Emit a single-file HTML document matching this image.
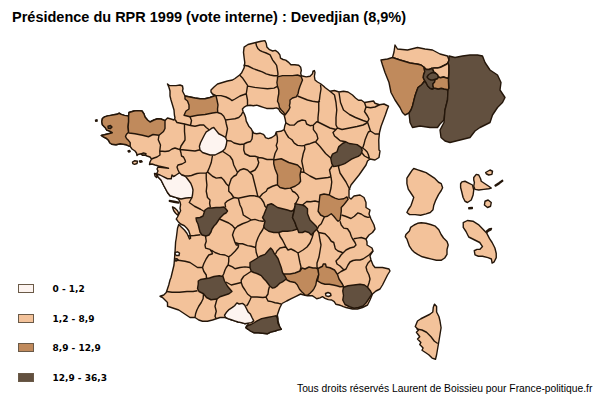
<!DOCTYPE html>
<html><head><meta charset="utf-8"><style>
html,body{margin:0;padding:0;background:#fff;}
body{width:600px;height:400px;position:relative;overflow:hidden;}
#title{position:absolute;left:12px;top:9px;font:bold 14.5px "Liberation Sans",Arial,sans-serif;color:#000;white-space:nowrap;}
.lg{position:absolute;left:52.5px;font:bold 9px "DejaVu Sans",Verdana,sans-serif;color:#000;white-space:nowrap;}
.bx{position:absolute;left:18px;width:14px;height:7px;border:1px solid #6a5a48;}
#foot{position:absolute;left:297px;top:383px;font:10.3px "Liberation Sans",Arial,sans-serif;color:#000;white-space:nowrap;}
svg{position:absolute;left:0;top:0;}
</style></head><body>
<svg width="600" height="400" viewBox="0 0 600 400">
<g stroke="#24160a" stroke-width="1.4" stroke-linejoin="round">
<path d="M211,90 L212,89 L214,87 L217.5,84 L222.5,82.5 L227.5,81 L232.5,80 L235,78.5 L239.6,75 L241.5,73.1 L242.8,70.5 L244.1,67.9 L244.8,62.7 L244.1,57.5 L243.5,52.3 L244.1,47.1 L248,44.5 L255.8,42.55 L261,41.25 L264.9,40.6 L266.2,43.2 L266.9,47.1 L269.5,49.7 L272.7,51 L275.3,50.35 L277.9,52.3 L279.9,54.9 L280.5,58.2 L283.1,59.5 L285.7,60.1 L288.3,62.1 L290.9,64.7 L294.8,64.7 L298.7,65.3 L300.7,67.3 L301.3,70.5 L300.7,73.1 L301.3,75.7 L306.25,76.9 L310,76.25 L312.5,73.75 L313,71.25 L314.4,70.6 L315,72.5 L314.4,76.25 L315,80 L317.5,82 L320.6,83.75 L323.75,86.25 L325,87.5 L330,91.25 L334.5,90.5 L339,92 L343.5,91.25 L348,92 L352.5,95 L355.5,98 L358.5,100.25 L361.5,100.25 L364.5,102.5 L369,101.75 L373.5,101 L375,103.25 L379.5,104.75 L384,104 L388.5,106.25 L387,110 L385.5,114.5 L383.25,120.5 L381,126.5 L379.5,132.5 L378.75,140 L379,150 L380,151 L379,157.5 L375,160 L370,159 L367.5,161 L366,165 L362.5,170 L359,175 L355,180 L351,185 L349,190 L349,195 L349,197.5 L351,199 L354,196 L360,195 L364,197.5 L366,202.5 L366,207.5 L370,210 L369,214 L371,219 L374,225 L375,229 L372.5,232.5 L369,235 L366,239 L367,242 L367,245 L372,248 L373,251 L371,254 L370,256 L371,260 L373,265 L375,267.5 L382.5,267.5 L389,269 L390,271 L387.5,275 L385,280 L382.5,285 L380,289 L376,291 L372.5,294 L370,300 L367.5,305 L362.5,307.5 L357.5,309 L352.5,309 L346,307.5 L343.3,306.7 L341.7,305.8 L339.2,305 L335.8,304.2 L334.2,301.7 L331.7,300 L328.3,299.6 L325,298.3 L322.5,296.7 L320,297.9 L316.7,298.75 L315,297.5 L312.5,295.8 L307.5,295.8 L305,295.3 L302,294.5 L300.7,294 L296,296.3 L291.3,298.7 L286.7,301 L282,303.5 L279.7,308 L278.5,311.5 L277.3,315 L278,318.5 L278,321 L279.6,326.5 L281.3,329.3 L278.5,329.9 L275.1,331 L270.6,332.1 L267.25,333.8 L262.75,333.25 L258.25,332.7 L253.75,332.7 L250.4,331 L248.1,329.3 L246.4,328.2 L245.9,327.6 L246.5,326 L248.1,324.5 L248.1,323.1 L244.75,323.7 L241.4,322.6 L238,322 L234.6,320.9 L231.25,319.75 L227.9,318.6 L225.6,317.5 L224.5,317.5 L220,317.5 L216.25,318.75 L212.5,320 L207.5,321.25 L202.5,321.25 L198.75,320 L195,317.5 L190,317.5 L186.25,315 L182.5,312.5 L178.75,310 L175,308.75 L171.25,307.5 L167.5,306.25 L167.5,302.5 L165,300 L162.5,297.5 L160,296.25 L163.75,295 L166.25,292.5 L167.5,288.75 L168.75,285 L170,280 L171,277.5 L174,265 L175,252.5 L175.6,242 L176.25,238.25 L176.9,233.25 L177.5,228.25 L178.75,224.5 L181.25,227 L184.4,230 L186.9,233.25 L188.1,235.75 L189.5,239 L190.6,238.25 L190,234.5 L188.75,230.75 L186.9,228.25 L184.4,225.75 L180.6,224 L178,221.4 L176.25,219 L177.5,217 L178.75,214.5 L180.6,210.75 L180,208.25 L180.6,204.5 L180,202 L178.75,199.5 L176.25,197.6 L170,195.75 L167.5,192.5 L164,186 L161,180 L158,177 L156.5,175 L157,173 L158,171 L157,169 L158,167 L168.5,168.3 L158.5,166 L155,165 L152,164 L149.5,164.5 L150,162 L151.5,159 L150,157 L147,156 L144,154.5 L142,154 L140,154 L138,154.5 L137,155.5 L136.5,153 L135,151 L132,149 L130.2,146.3 L128.6,145.8 L126.5,144.8 L123.4,144.2 L120.2,143.7 L116,144.8 L111.8,144.2 L109.7,142.7 L108.7,140.6 L106.6,138.5 L103.4,136.9 L101.3,135.5 L104.5,134.8 L108.6,133.7 L112.3,132.7 L109.7,131.1 L106.6,130 L105.5,128 L104.5,126.9 L102.4,124.8 L101.8,121.7 L102.4,118.5 L104.5,116.9 L107.6,115.9 L110.8,115.35 L113.9,114.8 L117,114.3 L119.2,113.25 L121.3,114.3 L124.4,115.35 L127.6,115.9 L128.6,116.4 L129,112.5 L134,111 L137.5,110.6 L142,111 L144,114 L145,117 L147.5,120 L150,122 L154,120 L157.5,118.75 L161,119 L165,120.6 L167.5,118 L171,119 L174,120 L175,118 L174.4,115 L174,110 L172.5,105 L171,100 L170,96 L170,91 L169,87.5 L167.5,84 L169.4,85.6 L172.5,85.6 L176,85.6 L180,85 L182.5,86 L183,88.75 L182.5,91 L184,94 L185,96 L190,97 L195,98 L200,98.75 L205,98.75 L210,97.5 L214,96 L216,95.6 L212.5,94 L211,92Z" fill="#f3c29a"/>
<path fill="none" d="M159,135.25 L158.25,139.75 L160.5,145 L159.75,151 M159.75,151 L160,155 L157,157 L154,158 L151.5,159 M159.75,151 L165,151.5 L169,151 L172,149 L175,148 L178,149 L180,149.5 M175,119.5 L177,122.5 L184.5,124 L184.5,131.5 L185,137 L185,140 L183,143 L181,146 L180,149.5 M184.5,124 L190.5,125.5 M190,116.75 L191.5,120.5 L190.5,125.5 M190.5,125.5 L195,126.25 L200,125 L203.75,125 L206.25,127.5 L209.4,130 M180,149.5 L185,150 L190,150.5 L195,151 L199,150 L200,150 M180,149.5 L181,153 L181.5,156 L183.5,157 L185,160 L185.5,162 L182,164 L178,165 L177,167 L178,170 L179.5,173 M181.75,175 L184.75,175.75 L188.5,176 L191.5,175.5 L194,174.5 L197,173.5 L200,173.1 L206.25,173.1 M212.5,155.5 L211.25,162.5 L209.4,167.5 L207.5,171.9 L206.25,173.1 M206.25,173.1 L206.25,178.75 L206.9,185 L206.25,191.25 L207.5,197.5 L210,200 L209.6,203.3 L210.4,207.5 M191.9,197.5 L189.25,202.5 L194.5,206.25 L200.5,209.25 L204.25,211.5 M207.5,171.9 L212.5,176.25 L216.25,178.1 L221.25,177.5 L223.75,180 L226.25,183.75 L228.75,186.25 M222.5,151.25 L226.25,153.75 L230,156.25 L232.5,160 L233.75,165 L236.25,170 L237.5,172.5 L236.25,175 L233.75,176.25 L231.25,178.75 L230,182.5 L228.75,186.25 M228.75,186.25 L228.75,191.25 L231.25,193.75 L233.75,197.5 L234.2,197.5 M234.2,197.5 L230.8,199.2 L227.5,200.8 L225,203.3 L225.6,207.5 M234.2,197.5 L238.3,198.3 L241.7,197.5 L245,196.7 L250,195.8 L253.75,195.6 L256.25,196.25 L258.75,196.9 L261.25,198.75 M238.3,198.3 L239.2,201.7 L240,205 L241.7,208.3 L242.5,211.7 L243.3,215 L246.25,216.9 L249.4,218.75 L251.25,220 M251.25,220 L255,219.4 L258.75,220.6 L262.5,221.25 L264,221 M251.25,220 L247.5,221.9 L242.5,223.75 L237.5,226.25 L235,228.75 L233.75,231.25 L232.5,235 L233.75,238.75 L235,242.5 L236.25,245 L238.75,245 M219.5,219 L223,220.5 L228.75,223 L232.5,225.6 L235,228.75 M235,242.5 L238.75,243.75 L242.5,243.75 L247.5,245.6 L251.25,246.25 L255.6,247.5 M261.25,198.75 L263.75,202.5 L265,206.25 L266.25,207.5 M264.5,225.5 L262.5,230 L260,233.75 L258.1,237.5 L256.25,242.5 L255.6,247.5 L256.25,252.5 L257.5,256.25 L258,257.5 M188,236 L194.5,235.5 L200.5,234.75 M205.5,236 L206.25,241.25 L205,245 L205.6,248.1 L210,249.4 L211.25,251.25 M278.75,232.5 L280,236.25 L282.5,240 L285,245 L286.25,247.5 M286.25,247.5 L285,247 L280,248 L277,251 L275.5,254 M286.25,247.5 L288,250 L291,249 L295,251 L298,253 L303,250 L307,247 L310,243 L312,238 L313.5,233 M298,253 L299,258 L300,263 L301,267 L300,271 M317.5,228.5 L318.75,226 L321.25,223.75 L324.4,216.9 M318.75,232.5 L320,240 L321,245 L320,251 L319,257 L317,263 L317,267 L318,269 M316,228.5 L318.75,232.5 L325,233.75 L328.75,237.5 L331.25,241.25 L333.75,242.5 L335,247.5 L335.5,249 L338,251 L341,252 L343,253 L346,250 L350,248 L354,247 L356,245 L355,242.5 L352.5,238.75 L351.25,236.25 L350,232.5 L347.5,228.75 L343.75,228.1 L341.25,225 L340,221.25 M353.75,238.75 L357.5,238.1 L361.25,237.5 L365,238.75 L366,239 M341.5,215 L345.4,216.25 L351,218.5 L354.4,216.25 L357.75,212.9 L361.1,214 L364.5,216.25 L367.9,217.4 L369.8,217 M343,253 L341,255 L339,258 L336,261 L337,264 L340,266 L342,268 L344,270 L346,269 L348,265 L350,262 L353,260.5 L356,260 L360,260 L363,259 L366,257 L369,255 L371,253 L373,251 M344,270 L341,271.5 L337.5,274 M343.5,287 L342,283.5 M367.5,287.25 L369,283 L370,279 L369,275 L367,271 L366,267 L368,263 L371,260 M226.9,140.6 L231,141 L234,143 L240,144.5 L244,144 M244,144 L247,142.5 L250.5,141.5 L252,139 L252.5,135 L252.5,130 M217.5,112.5 L221.25,113.75 L223.75,116.25 L225.5,120 L230,119.4 L235,118.75 L238.75,117.5 L241.25,115 L242.5,112.5 L243.75,112.5 M225.5,120 L226.25,123.75 L227.5,128.75 L226.25,135 L225.6,137.5 M216,95.6 L221,95.6 L226,97 L230,99 L232,100.6 L235,99 L240,96 L246.25,93.75 M239.6,75 L242.8,78.3 L245.4,82.2 L248,86.1 M247.5,86 L246.25,93.75 L247.5,100 L247.5,105 M243.5,65.3 L248,66 L253.2,68.6 L258.4,70.5 L262.3,71.8 L266.2,73.8 L270.1,75 L274,75.7 L277.9,75.7 M248,86.1 L254.5,87.4 L261,88.1 L267.5,88.7 L274,88.1 L277.9,86.1 M255.8,42.55 L256.5,45.8 L257.8,48.4 L259.7,50.35 L262.3,51.65 L266.2,53 L270.1,54.9 L271.4,57.5 L272.7,60.1 L274.7,62.7 L276.6,65.3 L277.3,69.2 L277.9,73.1 L277.9,75.7 M297.5,96 L302.5,98 L307.5,100 L312.5,101.25 L317.5,102 L320,101.25 M318.75,101.75 L319.5,99.5 L320,95 L321,89 L320.5,84.5 M318.75,101.75 L318.75,110 L318,117.5 L318,122 M330,91.25 L334.5,95 L336,102.5 L336.75,110 L336,117.5 L336,125 L337.5,128 M318,122 L324,125 L330,128 L336,129.5 L337.5,128 M339,92.5 L340.5,102.5 L343.5,110 L349.5,114.5 L355.5,117.5 L363,120.5 L367.5,122 M364.5,102.5 L366,107 L364.5,111.5 L367.5,116 L369,119 L367.5,122 M366,107 L370.5,107.75 L375,107 L378,105.5 L379.5,104.75 M337.5,128 L342,129.5 L349.5,128 L357,126.5 L363,125 L366,123.5 L367.5,122 L369,126.5 L370.5,131 L375,134 L379.5,134 M370.5,131 L368.4,132 L367.2,134.5 L365,140.1 L363.9,144.6 L362.7,148 L361.1,147.4 M362.7,148 L365,149.7 L367.2,152 L368.4,154.7 L369.5,158.7 M361.6,152.5 L364.5,156 L369.5,158.7 M336,129.5 L333,132.5 L334.5,136 L336.9,137.9 L340.2,140.7 L345.9,141.8 M315.6,142 L317.9,144.25 L320,146.5 L325.6,153.5 L330.7,158.1 M313.4,125.1 L313.4,129.6 L316.75,134.1 L317.9,138.6 L315.6,142 L314.5,142 M285.8,122.9 L289.75,125.1 L294.25,125.1 L297.6,121.75 L302.1,120 L305.5,120.6 L306.6,124 L310,125.7 L313.4,125.1 L316.75,121.75 L318,122 M284.1,129.6 L286.4,134.1 L288.6,137.5 L292,139.75 L294.25,143.1 L297.6,145.4 L302.1,145.9 L304.4,145.4 M304.4,145.4 L305.5,144.8 L310,143.7 L314.5,142 L315.6,142 M276.25,131.9 L277.4,137.5 L277.4,142 L276.25,145.4 L277.4,148.75 L275.1,153.25 L274,157.75 L273.75,160 M304.4,145.4 L304.9,148.75 L303.25,153.5 L301.75,161 L303.25,168.5 L304,172.25 M300.5,172 L304,172.25 L310,176 L316,179 L322,178.25 L328,177.5 L331,176.75 M332.5,165.5 L329.5,170 L331,176.75 M339,165.5 L338.5,167 L340,173 L343,177.5 L346,182 L348.25,186.5 L350,190 M331,176.75 L331.75,182 L331,188 L329.5,194 L329.4,195 M290,188.1 L291.25,188.75 L292.5,191.25 L295,192.5 L297.5,195 L298.75,197.5 L297.5,200 L296.25,202.5 L295,204 M302.5,205 L306.75,201.5 L310.5,201.75 L315,201 L319,202 M259.5,197.2 L262.5,193.75 L266.25,191.25 L267.5,188.75 L272.5,186.25 L276.25,185 L277.5,185 M258.75,157.5 L262.5,158 L267,159.5 L271.5,159.5 L274.5,159.5 M244,144 L243.75,150 L245,153.75 L250,156.25 L255,156.25 L258.75,157.5 M237.5,172.5 L240,170 L243.75,168.75 L247.5,170 L250,172.5 L255,170 L257.5,166.25 L258.75,162.5 L257.5,158.75 L258.75,157.5 M250,172.5 L252.5,175 L253.75,180 L255,185 L256.25,190 L257.5,195 L258,196.5 M211.25,250 L212.5,253.75 L208.75,255 L206.25,258.75 L203.75,263.75 L202.5,267.5 L203.75,271.25 L206.25,275 L206.5,278.5 M175.3,260 L180,260.5 L185,261.25 L190,262.5 L193.75,265 L197.5,267.5 L202.5,267.5 M211.25,250 L215,252.5 L220,254.4 L225,255 L228.75,256.9 L231.25,255 L235,251.25 L238.1,247.5 L238.75,245 M228.75,256.9 L228.75,261.25 L228.1,265 L226.25,267.5 L225,270 L223.75,273.75 L222.5,276.25 M228.1,265 L232.5,266.9 L235,268.75 L240,267.5 L245,266.9 L250,267.5 M251.25,271.25 L247.5,273.75 L243.75,276.25 L241.25,280 L241.25,282.5 M226,282 L231.25,285 L236.25,283.75 L241.25,282.5 M241.25,282.5 L242.5,286.25 L245,290 L247.5,294 L251.25,297 M251.25,297 L257,297 L263,297.5 L266,297 L268,294 L268.5,290 L269.5,286.5 M251.25,297 L250,300 L248,304 L246.5,306 M266,297 L268,301 L271.5,301.6 L275,302.75 L278.5,303.3 L281,304 M217,299 L215,306.25 L216.25,311.25 L215,316.25 L216.25,318.75 M203.5,293.75 L203.1,298.75 L201.25,302.5 L198.75,306.25 L196.9,310 L195.6,313.75 L195,317.5 M166.75,291.5 L172,292.25 L179.5,292.25 L187,291.5 L193,291.5 L197.5,290.75"/>
<path d="M128.6,116.4 L128.6,121.7 L128.1,126.9 L128.6,132.2 L126.5,134.3 L125.5,136.4 L126.5,138.5 L128.6,140.6 L130.2,142.7 L130.2,146.3 L128.6,145.8 L126.5,144.8 L123.4,144.2 L120.2,143.7 L116,144.8 L111.8,144.2 L109.7,142.7 L108.7,140.6 L106.6,138.5 L103.4,136.9 L101.3,135.5 L104.5,134.8 L108.6,133.7 L112.3,132.7 L109.7,131.1 L106.6,130 L105.5,128 L104.5,126.9 L102.4,124.8 L101.8,121.7 L102.4,118.5 L104.5,116.9 L107.6,115.9 L110.8,115.35 L113.9,114.8 L117,114.3 L119.2,113.25 L121.3,114.3 L124.4,115.35 L127.6,115.9Z" fill="#c08a5c"/>
<path d="M128.6,116.4 L129,112.5 L134,111 L137.5,110.6 L142,111 L144,114 L145,117 L147.5,120 L150,122 L154,120 L157.5,118.75 L161,119 L165,120.6 L165,123.25 L165,128.5 L163.5,131.5 L159,135.25 L153,134.5 L148.5,136.75 L142.5,135.25 L135,133.75 L129,133 L128.6,132.2 L128.1,126.9 L128.6,121.7Z" fill="#c08a5c"/>
<path d="M185,96 L190,97 L195,98 L200,98.75 L205,98.75 L210,97.5 L214,96 L216,95.6 L217,100 L218,105 L217.5,109 L217.75,112.25 L212.5,113 L205,114.5 L197.5,115.25 L190,116.75 L184,115.25 L186,111 L189,109 L189,105 L187.5,101 L185,99Z" fill="#c08a5c"/>
<path d="M277.5,76.9 L282.5,75.6 L287.5,75.6 L292.5,75.6 L297.5,75 L301,76.25 L302.5,80 L301,83.75 L300,86.25 L298.75,90 L298,93.75 L296.25,96.9 L292.5,98 L290,100 L290,103 L289.4,105.6 L290,107.5 L288.75,110 L286.9,112.5 L285,115 L283.75,112.5 L281.25,110 L279.4,107.5 L278.75,103.75 L277.5,101.25 L278,97.5 L278.75,93.75 L278.75,90 L277.5,86.25 L276.9,82.5 L277.5,78.75Z" fill="#c08a5c"/>
<path d="M330.7,158.1 L332.4,154.2 L336.9,151.9 L338.6,146.9 L342.5,143.5 L345.9,141.8 L349.2,143.5 L353.7,144.1 L357.1,144.6 L361.1,147.4 L362.2,150.2 L361.6,152.5 L360.5,154.7 L358.2,156.4 L354.9,157.6 L351.5,159.2 L348.1,161.5 L344.7,163.7 L341.4,164.9 L336.9,166 L333.5,166.6 L331.8,163.7Z" fill="#62503f"/>
<path d="M273.75,160 L281.25,158.75 L288.75,162.5 L297.5,165 L301.25,168.75 L300,175 L300.6,181.25 L298.75,183.75 L295,186.25 L290,188.1 L285,188.75 L280,187.5 L277.5,185 L277.5,175 L275,168.75 L273.75,163.75Z" fill="#c08a5c"/>
<path d="M320,195 L324,194 L329.4,195 L331.25,196.25 L335,198.1 L338.75,199.4 L343.75,198.75 L346.9,196.9 L348.1,199.4 L345.6,202.5 L343.1,205.6 L341.25,207.5 L341.25,211.25 L340.6,216.25 L340,220 L338.1,221.25 L336.25,219.4 L333.75,216.25 L331.25,213.75 L327.5,216.25 L324.4,216.9 L320.6,215 L318.1,211.25 L318.75,206.25 L319.4,200Z" fill="#c08a5c"/>
<path d="M283,274 L285,274 L290,274 L295,273 L300,271 L302,268 L305,269 L309,267 L313,268 L316,268 L318,269 L318.75,274.5 L316.7,280 L315.8,285 L314.2,288.3 L312.5,290.8 L310,293.3 L307.5,295.4 L305,295 L303.3,293.3 L301.7,291.7 L299.5,289.3 L297.2,284.7 L295,282.5 L290,281.5 L287,280 L285,277Z" fill="#c08a5c"/>
<path d="M318,268.5 L322.5,266.25 L323.25,264 L325.5,264 L326.25,267 L330,267.75 L334.5,270 L337.5,274.5 L339,279 L342,283.5 L343.5,286.5 L340,286.7 L336.7,285.8 L333.3,285 L329.2,284.2 L325,284.2 L321.7,283.3 L317.5,280.8 L318.75,274.5Z" fill="#c08a5c"/>
<path d="M343.5,287.25 L348,285.75 L354,285 L360,284.25 L364.5,285 L367.5,287.25 L370.5,291 L372,294 L369,298.5 L366,303 L363,306 L358.5,307.5 L354,308.25 L349.5,306.75 L345,304.5 L342.75,300 L343.5,295.5 L342.75,291Z" fill="#62503f"/>
<path d="M245.9,327.6 L248,325.5 L251.5,324.25 L254.5,322.5 L257.1,320.9 L261.6,318.6 L267.25,317.5 L272.9,316.4 L276.25,315.8 L277.4,318.6 L277.9,323.1 L279.6,326.5 L281.3,329.3 L278.5,329.9 L275.1,331 L270.6,332.1 L267.25,333.8 L262.75,333.25 L258.25,332.7 L253.75,332.7 L250.4,331 L248.1,329.3 L246.4,328.2Z" fill="#62503f"/>
<path d="M224.5,315.25 L226.75,311.9 L229,309.6 L232.4,307.4 L234.6,305.7 L236.9,302.9 L239.1,304 L242.5,303.4 L244.75,305.1 L246.4,308.5 L248.1,311.9 L250.4,314.1 L252,317.5 L253.75,320.9 L251.5,322.6 L248.1,323.1 L244.75,323.7 L241.4,322.6 L238,322 L234.6,320.9 L231.25,319.75 L227.9,318.6 L225.6,317.5Z" fill="#fdf4f0"/>
<path d="M198.25,281 L200.5,279.5 L205,278.75 L209.5,278 L214,276.5 L219.25,275.75 L223,276.5 L224.5,281 L227.5,286.25 L232,291.5 L229,293.75 L224.5,295.25 L220,296.75 L217,299 L211,299.75 L206.5,297.5 L203.5,293.75 L199,291.5 L197.5,288.5 L198.25,284Z" fill="#62503f"/>
<path d="M250,262.5 L256.25,258.75 L260,256.25 L265,254.4 L268.75,250 L270.6,248.1 L272.5,250 L274.4,253.75 L276.25,256 L278.1,258.75 L279.4,262.5 L281.25,267.5 L282.5,272.5 L285,276.25 L286.25,278.75 L285,280 L282.5,281.9 L280,283.1 L277.5,285.6 L275,287.5 L272.5,288.1 L270,286.25 L268.1,283.75 L266.25,281.25 L263.75,278.75 L261.25,275.6 L257.5,273.75 L253.75,272.5 L251.25,271.25 L250,267.5Z" fill="#62503f"/>
<path d="M196,218 L200,217.5 L203,216 L204,213 L205,210 L208,208 L212,208 L216,207.5 L220,207.5 L224,207 L226,209 L227.5,211 L226,213 L224,214 L222,216 L220,218 L218,221 L216,224 L214,226 L212,229 L211,232 L209,235 L206,236 L202,235 L200,232 L199,228 L198,224 L196.5,221Z" fill="#62503f"/>
<path d="M267.5,205 L271.25,203.75 L273.75,205 L277.5,207.5 L282.5,208.75 L287.5,210 L291.25,211.25 L293.75,210 L295,206.25 L293.75,212.5 L292.5,217.5 L295,222.5 L296.25,226.25 L297.5,229 L292.5,230.6 L287.5,231.25 L282.5,231.25 L278.75,232.5 L273.75,232.5 L268.75,231.25 L265,228.75 L263.75,226.25 L265,221.25 L262.5,217.5 L263.75,215 L266.25,208.75Z" fill="#62503f"/>
<path d="M295,203.75 L298.75,204.4 L302.5,205 L305,206.25 L307.5,208.75 L307.5,213.75 L310,220 L313.75,223.75 L316.25,226.25 L317.5,228.5 L315,231 L311.25,235 L308.75,232.5 L305,231.25 L302.5,232.5 L298.75,232.5 L297.5,229 L296.25,226.25 L295,222.5 L292.5,217.5 L293.75,212.5 L295,206.25Z" fill="#62503f"/>
<path d="M157,174 L160,175 L163.75,176.9 L167.5,178.75 L171.25,178.75 L172,175 L173.5,176.5 L175,175.75 L177.25,174.25 L179.5,172.75 L181.75,175 L184,175.75 L186.25,177.25 L188.5,180.25 L190.75,183.25 L192.25,187 L193,190 L192.5,195 L191.9,197.5 L186,198 L181,199 L176.25,197.6 L170,195.75 L167.5,192.5 L164,186 L161,180 L158,177Z" fill="#fdf4f0"/>
<path d="M211.9,128.1 L213.75,127.5 L216.25,130.6 L218.75,133.75 L222.5,135.6 L225.6,137.5 L226.9,140.6 L226.25,145 L225,148.75 L222.5,151.25 L218.75,153.1 L215,155 L210,155 L206.25,153.75 L202.5,152.5 L200,150 L199.4,146.25 L200.6,142.5 L202.5,138.75 L204.4,135 L206.25,131.9 L209.4,130Z" fill="#fdf4f0"/>
<path d="M242.4,109 L244.6,106.8 L246.8,105.7 L250.1,105.2 L253.4,105.7 L256.7,105.2 L260,106.25 L263.3,107.35 L266.6,108.45 L269.9,108.45 L273.2,108.45 L276.5,107.9 L278.7,109 L279.8,111.2 L282,113.4 L284.1,115 L285.25,119.5 L285.8,122.9 L284.7,126.25 L284.1,129.6 L280.75,131.3 L276.25,131.9 L275.1,135.25 L271.75,137.5 L268.4,138.6 L265.5,137.6 L264.4,135.4 L263.3,134.3 L260,133.2 L256.7,133.75 L254,133.2 L252.3,131 L251.2,128.8 L249,126.6 L247.9,124.4 L246.25,121.1 L245.7,117.8 L244.6,114.5 L243,111.2Z" fill="#ffffff"/>
<path d="M395,45 L397.5,49 L407.5,50 L417.5,47.5 L425,49 L432.5,50 L440,54 L447.5,56 L449,60 L448,62.75 L446.5,64.25 L443.5,65.75 L440.5,67.25 L437.5,68 L434.5,68 L431.5,68.4 L429.25,69.5 L426.25,69.5 L424,67.25 L421,65 L418,64.25 L410,63 L400,60 L392.5,57.5 L394,52Z" fill="#f3c29a"/>
<path d="M381,60 L387.5,59 L392.5,57.5 L400,60 L410,63 L418,64.25 L421,65 L424,67.25 L424.75,71.75 L423.6,74.75 L423.25,77.75 L424.75,80.75 L422.5,83.75 L421,85.25 L418,87.5 L416,93 L415,96 L414,100 L412.5,106 L411,110 L409,113 L405,115 L402.5,112.5 L400,107.5 L395,100 L391,92.5 L389,82.5 L385,72.5 L382.5,65Z" fill="#c08a5c"/>
<path d="M418,87.5 L421,85.25 L422.5,83.75 L424.75,80.75 L426.25,83 L427.75,86 L430,88.25 L432.25,89 L433.75,88.25 L435.25,88.25 L438.25,89 L441.25,88.25 L444.25,89 L448,89.75 L447.5,100 L445,110 L444,120 L440,124 L437.5,127.5 L430,127.5 L420,126 L412.5,127.5 L410,122.5 L409,113 L411,110 L412.5,106 L414,100 L415,96 L416,93Z" fill="#62503f"/>
<path d="M449,56 L455,57.5 L462.5,56 L470,55 L477.5,55 L482.5,56 L485,62.5 L490,70 L497.5,75 L501,82.5 L500,90 L505,97.5 L502.5,102.5 L497.5,107.5 L492.5,115 L490,122.5 L485,125 L480,127.5 L475,131 L470,137.5 L460,140 L450,142.5 L445,141 L441,137.5 L440,130 L444,122.5 L445,110 L447.5,100 L448,89.75 L448.75,88.25 L448.4,80.75 L448.75,73.25 L448.75,65.75 L448,62.75 L449,60Z" fill="#62503f"/>
<path d="M424,67.25 L426.25,69.5 L429.25,69.5 L431.5,68.4 L433,69.5 L433.75,71.75 L435,72.5 L437.5,74.75 L438.25,77 L437.5,78.5 L435.25,79.25 L434.5,82.25 L433,83.75 L433,86 L433.75,88.25 L432.25,89 L430,88.25 L427.75,86 L426.25,83 L424.75,80.75 L423.25,77.75 L423.6,74.75 L424.75,71.75Z" fill="#62503f"/>
<path d="M431.5,68.4 L434.5,68 L437.5,68 L440.5,67.25 L443.5,65.75 L446.5,64.25 L448,62.75 L448.75,65.75 L448.75,73.25 L448.4,78.5 L445.75,77.75 L443.5,77 L440.5,77.75 L438.25,77 L437.5,74.75 L435,72.5 L433.75,71.75 L433,69.5Z" fill="#f3c29a"/>
<path d="M435.25,79.25 L437.5,78.5 L438.25,77 L440.5,77.75 L443.5,77 L445.75,77.75 L448.4,78.5 L448.4,80.75 L448.75,88.25 L448,89.75 L444.25,89 L441.25,88.25 L438.25,89 L435.25,88.25 L433.75,88.25 L433,86 L433,83.75 L434.5,82.25Z" fill="#c08a5c"/>
<path d="M427,77 L428.5,74.75 L430.75,73.25 L433,72.5 L435.25,73.25 L437.5,74.75 L438.25,77 L437.5,78.5 L435.25,79.25 L433,80 L430.75,80 L428.5,78.9Z" fill="#62503f"/>
<path d="M413.75,168.5 L417.9,169.9 L422,171.25 L426.1,172.6 L430.25,175.4 L434.4,178.1 L438.5,182.25 L441.25,183.6 L442.6,187.75 L441.25,190.5 L438.5,194.6 L435.75,200.1 L433.7,205.6 L433,209.75 L430.25,212.5 L426.1,213.9 L420.6,215.25 L415.1,214.6 L409.6,214.6 L406.9,212.5 L408.25,209.75 L411,205.6 L412.4,201.5 L413.75,197.4 L411,193.25 L408.25,189.1 L406.9,183.6 L406.9,178.1 L409.6,174 L412.4,169.9Z" fill="#f3c29a"/>
<path d="M405.9,234.5 L409.4,230.9 L410.6,227.4 L414.1,225 L417.6,223.3 L421.2,222.7 L425.9,223.3 L430.6,224.5 L435.3,226.2 L438.8,229.75 L441.1,234.5 L443.5,238 L447,241.5 L448.2,245 L447,249.7 L447,254.4 L444.7,258 L441.1,260.3 L436.4,260.3 L431.7,259.1 L427,258 L422.3,256.8 L417.6,254.4 L414.1,252.1 L411.75,249.7 L409.4,246.2 L408.2,242.7 L407,239.2 L405.3,236.8Z" fill="#f3c29a"/>
<path d="M461.9,181.9 L465,181.25 L468.75,183.1 L472.5,185 L473.75,190 L473.1,195 L471.25,200 L467.5,202.5 L465,201.25 L463.1,197.5 L461.9,192.5 L460.6,187.5 L460.6,183.75Z" fill="#f3c29a"/>
<path d="M473.75,177.5 L476.25,174.4 L478.75,175 L480.6,178.75 L481.25,181.25 L485,183.75 L488.75,186.25 L491.25,188.1 L488.75,188.75 L483.75,189.4 L478.75,190 L475,189.4 L473.75,186.25 L474.4,182.5 L473.75,180Z" fill="#f3c29a"/>
<path d="M485.6,172.5 L490,170 L492.5,171.25 L491.9,174.4 L488.75,175 L486.25,173.75Z" fill="#f3c29a"/>
<path d="M485,201.25 L488.1,200 L491.25,202.5 L490.6,206.25 L487.5,207.5 L484.4,205Z" fill="#f3c29a"/>
<path d="M463.25,222.6 L467.4,220.5 L472.9,221.2 L478.4,224.6 L482.5,228.75 L486.6,232.9 L489.4,238.4 L492.1,242.5 L494.9,248 L496.25,253.5 L496.25,257.6 L494.2,261.8 L492.1,263.1 L491.4,259 L488,257.6 L482.5,256.25 L478.4,256.25 L475,254.9 L474.25,250.75 L477,249.4 L479.75,249.4 L482.5,246.6 L479.75,242.5 L474.25,239.75 L468.75,237 L466,231.5 L463.25,227.4Z" fill="#f3c29a"/>
<path d="M434.4,304.1 L436.6,306.4 L436.6,312 L438.9,316.5 L440,321 L441.1,327.75 L440,334.5 L438.9,341.25 L437.75,348 L436.6,354.75 L435.5,359.25 L432.1,358.1 L428.75,354.75 L425.4,352.5 L422,350.25 L423.1,348 L419.75,344.6 L420.9,342.4 L417.5,339 L419.75,336.75 L416.4,332.25 L418.6,330 L415.25,326.6 L417.5,321 L420.9,318.75 L425.4,316.5 L429.9,314.25 L432.8,312 L433.25,307.5Z" fill="#f3c29a"/>
<path d="M486.5,231 L489,229 L491.5,228.5 L491,229.8 L488.5,231 L487,232.5Z" fill="#f3c29a"/>
<path d="M172.5,207 L175,208.25 L177.5,210.75 L178.75,213.25 L177.5,215 L175.6,213.25 L173.75,210.75 L173.1,209Z" fill="#f3c29a"/>
<path d="M169.4,200.5 L174,201.3 L178.75,202.2 L178.5,203 L174,202.2 L169.4,201.3Z" fill="#f3c29a"/>
<path d="M495,185.3 L498.75,182.8 L502.3,180.2 L502.8,181 L499.2,183.8 L495.5,186.1Z" fill="#f3c29a"/>
<path d="M468.8,207.8 L472.3,207.4 L472.3,208.5 L468.8,208.8Z" fill="#f3c29a"/>
<path d="M132.5,162 L134.5,160.8 L137.5,161.3 L137,163.5 L134.5,164.3 L132.8,163.6Z" fill="#f3c29a"/>
<path d="M139.5,161 L141.5,160.8 L142.2,161.8 L140,162.3Z" fill="#f3c29a"/>
<path d="M128,151 L129.5,150.5 L130.2,151.5 L128.8,152Z" fill="#f3c29a"/>
<path d="M154.5,173.5 L156,173.8 L157,176 L156.5,177.5 L155,176Z" fill="#f3c29a"/>
<path d="M95.5,120.2 L97,119.8 L97.2,121 L95.8,121.2Z" fill="#f3c29a"/>
<path d="M108,126.2 L110.5,125.5 L112,127 L110.5,128.6 L108.2,128.2Z" fill="#62503f"/>
<path d="M141,153.8 L143.5,152.9 L146,153.6 L145.5,155.3 L142.5,155.4Z" fill="#62503f"/>
<path d="M325.5,293.5 L328,292.5 L330.5,293.5 L331,295.5 L328.5,296.5 L326,295.8Z" fill="#ffffff"/>
<path d="M175.2,252.5 L177.5,251.8 L179.5,253 L179,255.5 L176.5,255.5 L175.2,254.5Z" fill="#ffffff"/>
<path d="M174.8,259 L177,258.7 L178.2,260 L176,261 L174.8,260.5Z" fill="#ffffff"/>
<path d="M416.4,328.9 L422,330 L426.5,332.25 L431,336.75 L434.4,341.25 L437.75,343.5" fill="none"/>
</g>
</svg>
<div id="title">Présidence du RPR 1999 (vote interne) : Devedjian (8,9%)</div>
<div class="bx" style="top:284px;background:#fdf4f0"></div><div class="lg" style="top:283.5px">0 - 1,2</div>
<div class="bx" style="top:314px;background:#f3c29a"></div><div class="lg" style="top:313.5px">1,2 - 8,9</div>
<div class="bx" style="top:343px;background:#c08a5c"></div><div class="lg" style="top:342.5px">8,9 - 12,9</div>
<div class="bx" style="top:373px;background:#62503f"></div><div class="lg" style="top:372.5px">12,9 - 36,3</div>
<div id="foot">Tous droits réservés Laurent de Boissieu pour France-politique.fr</div>
</body></html>
